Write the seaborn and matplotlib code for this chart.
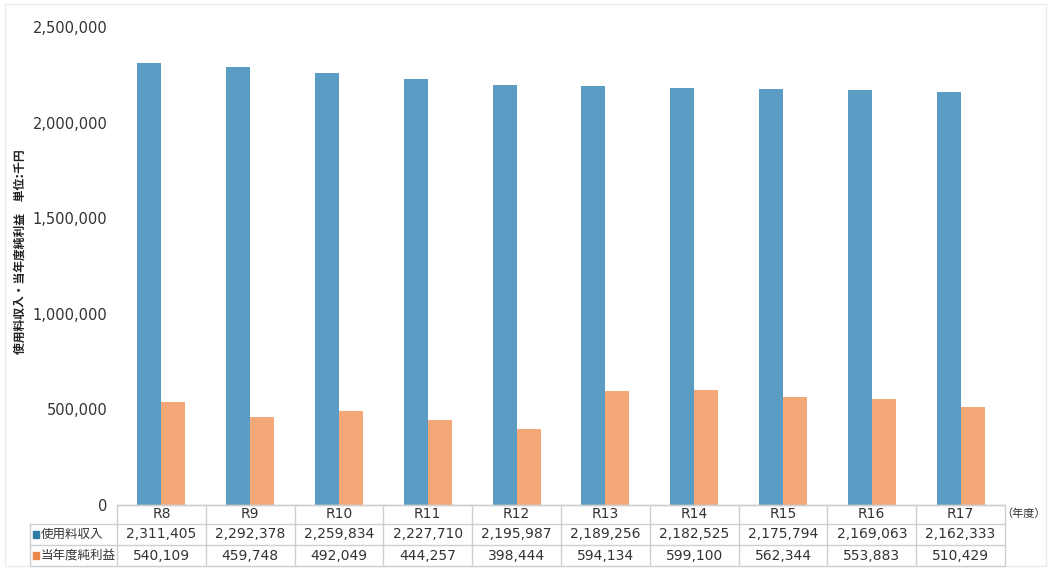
import matplotlib
matplotlib.use("Agg")
import matplotlib.pyplot as plt
import seaborn as sns
import pandas as pd
from matplotlib.lines import Line2D
from matplotlib.patches import Rectangle

categories = ["R8", "R9", "R10", "R11", "R12", "R13", "R14", "R15", "R16", "R17"]
series_names = ["使用料収入", "当年度純利益"]
revenue = [2311405, 2292378, 2259834, 2227710, 2195987, 2189256, 2182525, 2175794, 2169063, 2162333]
net_profit = [540109, 459748, 492049, 444257, 398444, 594134, 599100, 562344, 553883, 510429]
y_ticks = [0, 500000, 1000000, 1500000, 2000000, 2500000]
y_label = "使用料収入・当年度純利益　単位:千円"
x_unit = "（年度）"

colors = ["#2f7aa5", "#ec8848"]
stripe_colors = ["#5a9cc4", "#f4a878"]

sns.set_theme(style="white")
plt.rcParams['font.family'] = ['DejaVu Sans', 'Noto Sans CJK JP']
plt.rcParams['hatch.linewidth'] = 0.7

df = pd.DataFrame({
    "year": categories * 2,
    "series": [series_names[0]] * len(categories) + [series_names[1]] * len(categories),
    "value": revenue + net_profit,
})

W, H = 1048, 569
fig = plt.figure(figsize=(W / 100, H / 100), dpi=100)
L, R, B, T = 117, 1005, 505, 27
ax = fig.add_axes([L / W, 1 - B / H, (R - L) / W, (B - T) / H])

sns.barplot(data=df, x="year", y="value", hue="series", order=categories,
            hue_order=series_names, palette=colors, width=0.54, saturation=1,
            legend=False, ax=ax, linewidth=0)

n = len(categories)
for i, p in enumerate(ax.patches):
    k = i // n
    p.set_hatch('-' * 22)
    p.set_edgecolor(stripe_colors[k])
    p.set_linewidth(0)

ax.set_ylim(0, 2500000)
ax.set_xlim(-0.5, n - 0.5)
ax.set_yticks(y_ticks)
ax.set_yticklabels([f"{v:,}" for v in y_ticks], fontsize=10.5, color="#333333")
ax.tick_params(axis='y', length=0, pad=7)
ax.set_xticks([])
ax.set_xlabel("")
ax.set_ylabel("")
for s in ["top", "right", "left"]:
    ax.spines[s].set_visible(False)
ax.spines["bottom"].set_color("#c8c8c8")
ax.spines["bottom"].set_linewidth(1)

# y label
fig.text(20 / W, 1 - 252 / H, y_label, rotation=90, ha='center', va='center',
         fontsize=8.5, fontweight='bold', color="#222222")

# data table
line_col = "#cfcfcf"
def fx(px):
    return px / W
def fy(py):
    return 1 - py / H

rows_y = [505, 524, 545, 566]
tx0 = 30
colw = (R - L) / n
lines = []
lines.append(Line2D([fx(L), fx(R)], [fy(rows_y[0])] * 2))
for yy in rows_y[1:]:
    lines.append(Line2D([fx(tx0), fx(R)], [fy(yy)] * 2))
lines.append(Line2D([fx(tx0), fx(tx0)], [fy(rows_y[1]), fy(rows_y[3])]))
for j in range(n + 1):
    xx = L + j * colw
    lines.append(Line2D([fx(xx), fx(xx)], [fy(rows_y[0]), fy(rows_y[3])]))
for ln in lines:
    ln.set_color(line_col)
    ln.set_linewidth(1)
    fig.add_artist(ln)

for j, c in enumerate(categories):
    cx = L + (j + 0.5) * colw
    fig.text(fx(cx), fy((rows_y[0] + rows_y[1]) / 2), c, ha='center', va='center',
             fontsize=10, color="#333333")
    fig.text(fx(cx), fy((rows_y[1] + rows_y[2]) / 2), f"{revenue[j]:,}", ha='center',
             va='center', fontsize=10, color="#333333")
    fig.text(fx(cx), fy((rows_y[2] + rows_y[3]) / 2), f"{net_profit[j]:,}", ha='center',
             va='center', fontsize=10, color="#333333")

for k, name in enumerate(series_names):
    yc = (rows_y[1 + k] + rows_y[2 + k]) / 2
    fig.add_artist(Rectangle((fx(33), fy(yc + 3.5)), 6 / W, 7 / H, color=colors[k],
                             transform=fig.transFigure))
    fig.text(fx(41), fy(yc), name, ha='left', va='center', fontsize=9, color="#333333")

fig.text(fx(1046), fy(514), x_unit, ha='right', va='center', fontsize=8, color="#333333")

# faint outer border
fig.add_artist(Rectangle((fx(5), fy(566)), (1046 - 5) / W, (566 - 4) / H, fill=False,
                         edgecolor="#ececec", linewidth=1, transform=fig.transFigure))

fig.savefig("out.png", dpi=100)
